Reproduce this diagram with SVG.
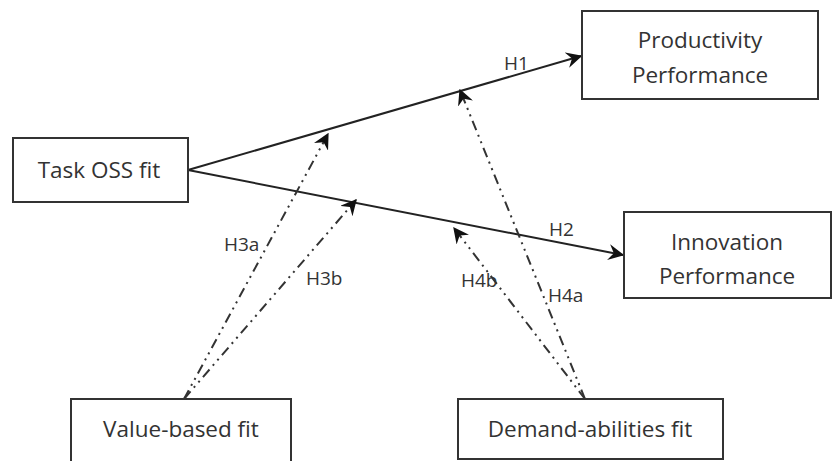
<svg xmlns="http://www.w3.org/2000/svg" width="838" height="461" viewBox="0 0 838 461">
<defs>
<style>
.box{fill:#fff;stroke:#333;stroke-width:2}
.t{font-family:"Open Sans","Liberation Sans",sans-serif;font-size:22.5px;fill:#333;text-anchor:middle}
.lbl{font-family:"Open Sans","Liberation Sans",sans-serif;font-size:19px;fill:#333}
.solid{stroke:#222;stroke-width:2;fill:none}
.dash{stroke:#333;stroke-width:2;fill:none;stroke-dasharray:10 5 2 5 2 5}
</style>
<marker id="oh" viewBox="0 0 12 12" refX="11" refY="6" markerWidth="16" markerHeight="16" markerUnits="userSpaceOnUse" orient="auto"><path d="M0,0 L12,6 L0,12 L4,6 z" fill="#111"/></marker>
</defs>
<rect width="838" height="461" fill="#fff"/>
<g id="connectors">
<line class="solid" x1="188" y1="170" x2="581" y2="56" marker-end="url(#oh)"/>
<line class="solid" x1="188" y1="170" x2="623" y2="255" marker-end="url(#oh)"/>
<line class="dash" x1="184" y1="399" x2="328" y2="134" marker-end="url(#oh)"/>
<line class="dash" x1="184" y1="399" x2="356" y2="200" marker-end="url(#oh)"/>
<line class="dash" x1="585" y1="399" x2="460" y2="90" marker-end="url(#oh)"/>
<line class="dash" x1="585" y1="399" x2="454" y2="228" marker-end="url(#oh)"/>
<text class="lbl" x="504" y="70">H1</text>
<text class="lbl" x="549" y="236">H2</text>
<text class="lbl" x="224" y="251">H3a</text>
<text class="lbl" x="306" y="285">H3b</text>
<text class="lbl" x="461" y="287">H4b</text>
<text class="lbl" x="548" y="302">H4a</text>
</g>
<g id="task"><rect class="box" x="13" y="138" width="175" height="64"/><text class="t" x="99" y="178">Task OSS fit</text></g>
<g id="productivity"><rect class="box" x="582" y="11" width="236" height="88"/><text class="t" x="700" y="48">Productivity</text><text class="t" x="700" y="83">Performance</text></g>
<g id="innovation"><rect class="box" x="624" y="212" width="207" height="86"/><text class="t" x="727" y="250">Innovation</text><text class="t" x="727" y="284">Performance</text></g>
<g id="value"><rect class="box" x="71" y="399" width="220" height="72"/><text class="t" x="181" y="437">Value-based fit</text></g>
<g id="demand"><rect class="box" x="458" y="399" width="265" height="60"/><text class="t" x="590" y="437">Demand-abilities fit</text></g>
</svg>
